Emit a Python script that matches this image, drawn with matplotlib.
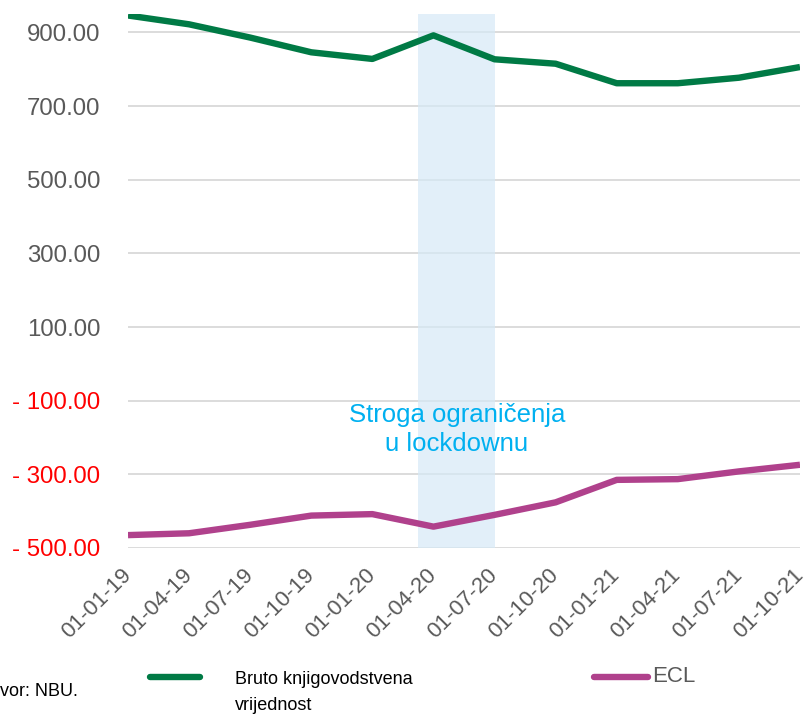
import matplotlib
matplotlib.use("Agg")
import matplotlib.pyplot as plt
from matplotlib.lines import Line2D

plt.rcParams['font.family'] = ['Liberation Sans', 'DejaVu Sans']

dates = ["01-01-19", "01-04-19", "01-07-19", "01-10-19", "01-01-20", "01-04-20",
         "01-07-20", "01-10-20", "01-01-21", "01-04-21", "01-07-21", "01-10-21"]
bruto = [946, 922, 886, 846, 828, 892, 827, 815, 762, 762, 777, 806]
ecl = [-465, -460, -437, -412, -408, -442, -410, -376, -315, -313, -292, -274]
lockdown_start = 4.75
lockdown_end = 6.0
yticks = [900, 700, 500, 300, 100, -100, -300, -500]

W, H = 807, 715
fig = plt.figure(figsize=(W / 100, H / 100), dpi=100)
ax = fig.add_axes([128 / W, 1 - 548 / H, (800 - 128) / W, (548 - 14) / H])

x = list(range(len(dates)))
ax.axvspan(lockdown_start, lockdown_end, color='#d6e9f7', alpha=0.7, zorder=2, lw=0)
ax.plot(x, bruto, color='#007A45', lw=4.6, zorder=3, solid_capstyle='butt')
ax.plot(x, ecl, color='#B0418C', lw=4.6, zorder=3, solid_capstyle='butt')

ax.set_xlim(0, 11)
ax.set_ylim(-500, 950)
ax.set_yticks(yticks)
labels = []
for v in yticks:
    labels.append(f"- {abs(v):.2f}" if v < 0 else f"{v:.2f}")
ax.set_yticklabels(labels)
for lab, v in zip(ax.get_yticklabels(), yticks):
    lab.set_color('#FF0000' if v < 0 else '#595959')
ax.tick_params(axis='y', length=0, pad=20, labelsize=17.3)
ax.grid(axis='y', color='#d9d9d9', lw=1.3, zorder=1)
ax.set_axisbelow(True)

ax.set_xticks(x)
ax.set_xticklabels(dates, rotation=45, ha='right', va='center',
                   rotation_mode='anchor', color='#595959', fontsize=16)
ax.tick_params(axis='x', length=0, pad=17)
for s in ax.spines.values():
    s.set_visible(False)

ax.text(5.385, -178, "Stroga ograničenja\nu lockdownu", color='#00B0F0',
        fontsize=18.5, ha='center', va='center', linespacing=1.25, zorder=4)

# legend
fig.add_artist(Line2D([150 / W, 200 / W], [1 - 677 / H, 1 - 677 / H],
                      color='#007A45', lw=4.6, solid_capstyle='round'))
fig.text(235 / W, 1 - 680 / H, "Bruto knjigovodstvena", fontsize=13,
         color='#000000', va='center', ha='left')
fig.text(235 / W, 1 - 706 / H, "vrijednost", fontsize=13,
         color='#000000', va='center', ha='left')
fig.add_artist(Line2D([594 / W, 648 / W], [1 - 677 / H, 1 - 677 / H],
                      color='#B0418C', lw=4.6, solid_capstyle='round'))
fig.text(652 / W, 1 - 677 / H, "ECL", fontsize=16, color='#595959',
         va='center', ha='left')
fig.text(-14 / W, 1 - 692 / H, "Izvor: NBU.", fontsize=13, color='#000000',
         va='center', ha='left')

fig.savefig("out.png", dpi=100)
